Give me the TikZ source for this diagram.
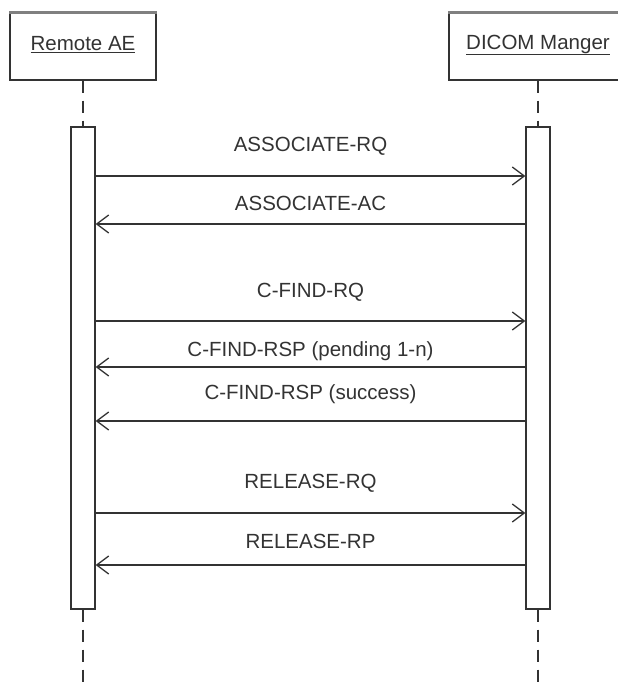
\documentclass[tikz,border=0pt]{standalone}
\usepackage{fontspec}
\setmainfont{Liberation Sans}
\usetikzlibrary{
    arrows.meta,
    positioning
}
\definecolor{inkgray}{HTML}{333333}
\tikzset{
    actor/.style={draw=inkgray, line width=1.4pt, fill=white, rectangle,
        minimum height=67pt, inner sep=0pt},
    bar/.style={draw=inkgray, line width=1.3pt, fill=white, rectangle,
        minimum width=24pt, minimum height=482pt, inner sep=0pt},
    lifeline/.style={draw=inkgray, line width=1.3pt, dash pattern=on 12pt off 8pt},
    msg/.style={draw=inkgray, line width=1.3pt,
        -{Straight Barb[length=12pt, width=18pt, line width=1.3pt]}},
    msgtext/.style={text=inkgray, font=\fontsize{20.5}{24}\selectfont, inner sep=0pt}
}

\begin{document}
\begin{tikzpicture}[x=1pt, y=-1pt]
                        \useasboundingbox (0, 0) rectangle (618, 683);
                        \clip (0, 0) rectangle (618, 683);
                        % actors
                        \node[actor, minimum width=146pt] (remote) at (83, 46.5) {};
                        \node[msgtext] (remotelabel) at (83, 45) {\underline{Remote AE}};
                        \node[actor, minimum width=178pt] (dicom) at (538, 46.5) {};
                        \node[msgtext] (dicomlabel) at (538, 45) {\underline{DICOM Manger}};
                        \draw[gray, line width=2.5pt]
                        (remote.north west) -- (remote.north east)
                        (dicom.north west) -- (dicom.north east);
                        % activation bars
                        \node[bar] (lbar) at (83, 368) {};
                        \node[bar] (rbar) at (538, 368) {};
                        \coordinate (lend) at (83, 683);
                        \coordinate (rend) at (538, 683);
                        \draw[lifeline]
                        (remote.south) -- (lbar.north)
                        (lbar.south) -- (lend)
                        (dicom.south) -- (rbar.north)
                        (rbar.south) -- (rend);
                        % messages
                        \draw[msg] (lbar.east |- 0, 176) -- (rbar.west |- 0, 176);
                        \node[msgtext] (m1) at (310.5, 146) {ASSOCIATE-RQ};
                        \draw[msg] (rbar.west |- 0, 224) -- (lbar.east |- 0, 224);
                        \node[msgtext] (m2) at (310.5, 203) {ASSOCIATE-AC};
                        \draw[msg] (lbar.east |- 0, 321) -- (rbar.west |- 0, 321);
                        \node[msgtext] (m3) at (310.5, 292) {C-FIND-RQ};
                        \draw[msg] (rbar.west |- 0, 367) -- (lbar.east |- 0, 367);
                        \node[msgtext] (m4) at (310.5, 351) {C-FIND-RSP (pending 1-n)};
                        \draw[msg] (rbar.west |- 0, 421) -- (lbar.east |- 0, 421);
                        \node[msgtext] (m5) at (310.5, 394) {C-FIND-RSP (success)};
                        \draw[msg] (lbar.east |- 0, 513) -- (rbar.west |- 0, 513);
                        \node[msgtext] (m6) at (310.5, 483) {RELEASE-RQ};
                        \draw[msg] (rbar.west |- 0, 565) -- (lbar.east |- 0, 565);
                        \node[msgtext] (m7) at (310.5, 541) {RELEASE-RP};
                    \end{tikzpicture}
\end{document}
